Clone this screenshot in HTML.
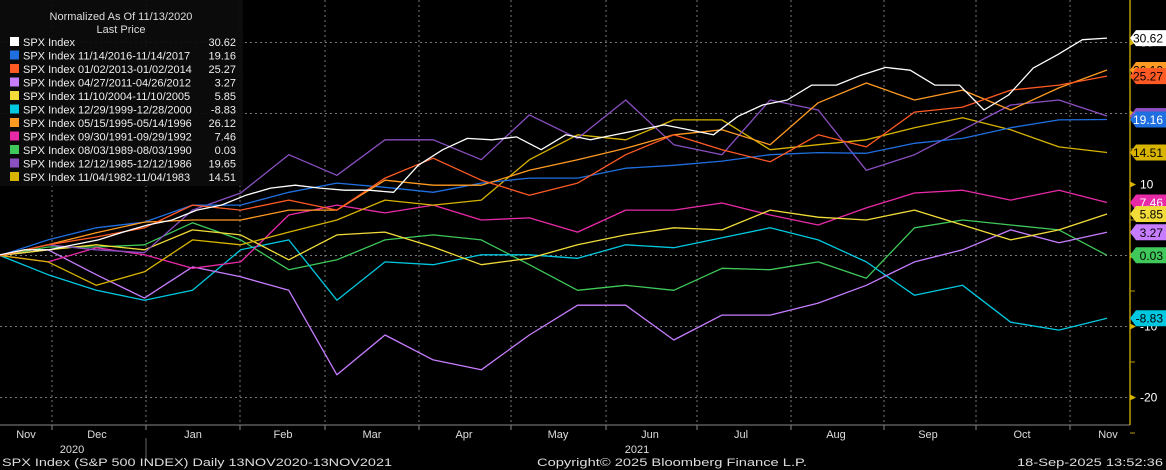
<!DOCTYPE html>
<html><head><meta charset="utf-8"><style>
body{margin:0;background:#000;width:1166px;height:470px;overflow:hidden;font-family:"Liberation Sans",sans-serif}
svg{position:absolute;left:0;top:0}
</style></head><body>
<svg id="c" width="1166" height="470"></svg>
<script>
const whiteVals=[0.1,0.8,0.8,1.5,2.2,3.3,4.3,5,6.4,7.1,8.5,9.5,9.9,9.5,9.2,9.2,8.9,12.7,14.9,16.5,16.3,16.7,14.9,17,16.3,17,17.7,18.4,17.7,17,19.6,21.2,21.9,24,24,25.4,26.5,26.1,24,24,20.5,22.6,26.4,28.3,30.4,30.62];
const blueVals=[0,2.2,3.9,4.7,7.1,7.1,8.9,10.2,9.6,8.9,10.2,10.9,10.9,12.3,12.7,13.3,14.2,14.5,14.4,15.8,16.5,18.0,19.1,19.16];
const redVals=[0,1.5,2.6,3.9,7.1,6.4,7.8,6.4,10.9,13.7,10.6,8.5,10.2,14.2,17.0,14.9,13.2,17.0,15.3,20.2,20.9,23.3,24.0,25.27];
const lavVals=[0,0.8,-2.7,-6.0,-1.6,-3.0,-4.9,-16.8,-11.2,-14.7,-16.1,-11.2,-7.0,-7.0,-11.9,-8.4,-8.4,-6.7,-4.2,-0.9,0.8,3.6,1.8,3.27];
const paleVals=[0,0.8,1.5,0.8,3.6,2.9,-0.6,2.9,3.3,1.2,-1.3,-0.4,1.5,2.9,3.9,3.6,6.4,5.4,5.0,6.4,4.3,2.2,3.6,5.85];
const cyanVals=[0,-2.7,-4.9,-6.3,-4.9,0.8,2.2,-6.3,-0.9,-1.3,0.1,0.1,-0.4,1.5,1.1,2.5,3.9,2.2,-0.9,-5.6,-4.2,-9.4,-10.5,-8.83];
const orangeVals=[0,1.5,3.2,4.7,5.0,5.0,6.4,6.4,10.6,9.9,9.9,12.0,13.5,15.1,17.0,17.7,15.6,21.5,24.3,21.9,23.3,20.5,23.6,26.12];
const magVals=[0,-0.9,1.1,0.1,-1.8,-0.9,5.7,7.1,6.0,7.1,5.0,5.3,3.3,6.4,6.4,7.4,5.7,4.3,6.7,8.8,9.2,7.8,9.2,7.46];
const greenVals=[0,1.2,1.2,1.5,4.6,2.2,-2.0,-0.6,2.2,2.9,2.2,-1.3,-4.9,-4.2,-4.9,-1.8,-2.0,-0.9,-3.2,3.9,5.0,4.3,3.6,0.03];
const purpleVals=[0,1.5,0.8,0.4,6.4,8.8,14.2,11.3,16.3,16.3,13.5,19.8,16.5,21.9,15.6,14.2,21.9,20.5,12.0,14.2,17.7,21.2,21.9,19.65];
const goldVals=[0,-0.9,-4.2,-2.3,2.2,1.5,3.3,5.0,7.8,7.1,7.8,13.5,17.0,16.3,19.1,19.1,14.9,15.6,16.3,18.0,19.4,17.7,15.3,14.51];
const seriesNames=["SPX Index","SPX Index 11/14/2016-11/14/2017","SPX Index 01/02/2013-01/02/2014","SPX Index 04/27/2011-04/26/2012","SPX Index 11/10/2004-11/10/2005","SPX Index 12/29/1999-12/28/2000","SPX Index 05/15/1995-05/14/1996","SPX Index 09/30/1991-09/29/1992","SPX Index 08/03/1989-08/03/1990","SPX Index 12/12/1985-12/12/1986","SPX Index 11/04/1982-11/04/1983"];
const monthLabels=["Nov","Dec","Jan","Feb","Mar","Apr","May","Jun","Jul","Aug","Sep","Oct","Nov"];
const yTicks=[30,20,10,0,-10,-20];

const S=document.getElementById('c'),NS='http://www.w3.org/2000/svg';
function mk(t,a,p){const e=document.createElementNS(NS,t);for(const k in a)e.setAttribute(k,a[k]);(p||S).appendChild(e);return e;}
const X0=0,X1=1107,PR=1130,PB=425;
const yS=v=>255.5-v*7.1;
const xS=(i,n)=>X0+(X1-X0)*i/(n-1);
const grid=[52,146,240,325,419,511,606,697,791,884,976,1070];
grid.forEach(x=>{const l=mk('line',{x1:x,x2:x,y1:0,y2:PB,stroke:'#777','stroke-dasharray':'2 3','stroke-width':1});
});
yTicks.forEach(v=>{if(v===10)return;const l=mk('line',{x1:0,x2:PR,y1:yS(v),y2:yS(v),stroke:'#777','stroke-dasharray':'2 3','stroke-width':1});
});
const colors=['#ffffff','#1f6fe0','#ff5a24','#c77dff','#f2dc3a','#00c8e0','#ff9a22','#e82aa8','#3fc95a','#8a4fc0','#d8b400'];
const data=[whiteVals,blueVals,redVals,lavVals,paleVals,cyanVals,orangeVals,magVals,greenVals,purpleVals,goldVals];
const order=[8,5,3,7,4,10,9,1,6,2,0];
order.forEach(k=>{const d=data[k];const pts=d.map((v,i)=>xS(i,d.length).toFixed(1)+','+yS(v).toFixed(1)).join(' ');
const p=mk('polyline',{points:pts,fill:'none',stroke:colors[k],'stroke-width':1.3,'stroke-linejoin':'round'});
});
// axes
let a=mk('line',{x1:0,x2:PR,y1:PB,y2:PB,stroke:'#888','stroke-width':1});
a=mk('line',{x1:PR,x2:PR,y1:0,y2:PB,stroke:'#b89a00','stroke-width':1.5});
[-25,-15,-5,5,15,25].forEach(v=>{const t=mk('line',{x1:PR,x2:PR+5,y1:yS(v),y2:yS(v),stroke:'#b89a00'});});
yTicks.forEach(v=>{mk('path',{d:`M${PR} ${yS(v)-3}L${PR+6} ${yS(v)}L${PR} ${yS(v)+3}Z`,fill:'#d8b400'});
const t=mk('text',{x:PR+10,y:yS(v)+4,fill:'#fff','font-size':12});t.textContent=v;});
grid.forEach(x=>{const t=mk('line',{x1:x,x2:x,y1:PB,y2:PB+5,stroke:'#888'});});
const mx=[26,97,193,283,372,464,558,650,741,836,928,1022,1108];
monthLabels.forEach((m,i)=>{const t=mk('text',{x:mx[i],y:438,fill:'#ddd','font-size':11,'text-anchor':'middle'});t.textContent=m;});
[[72,'2020'],[637,'2021']].forEach(([x,s])=>{const t=mk('text',{x:x,y:453,fill:'#ddd','font-size':11,'text-anchor':'middle'});t.textContent=s;});
mk('line',{x1:146,x2:146,y1:438,y2:460,stroke:'#666'});
[[2,'start','SPX Index (S&P 500 INDEX)  Daily 13NOV2020-13NOV2021','footer-left'],[672,'middle','Copyright© 2025 Bloomberg Finance L.P.','footer-copyright'],[1163,'end','18-Sep-2025 13:52:36','footer-timestamp']].forEach(([x,an,s,n])=>{
const t=mk('text',{x:x,y:466,fill:'#ddd','font-size':11,'text-anchor':an,textLength:an==='start'?390:an==='end'?146:270,lengthAdjust:'spacingAndGlyphs'});t.textContent=s;});
// tags
const tags=[[6,'26.12','#000'],[9,'19.65','#fff'],[0,'30.62','#000'],[2,'25.27','#000'],[1,'19.16','#fff'],[10,'14.51','#000'],[7,'7.46','#fff'],[4,'5.85','#000'],[3,'3.27','#000'],[8,'0.03','#000'],[5,'-8.83','#000']];
tags.forEach(([k,s,tc])=>{const d=data[k];const y=yS(d[d.length-1]);const g=mk('g',{});

mk('path',{d:`M${PR} ${y}L${PR+6} ${y-8}H1166V${y+8}H${PR+6}Z`,fill:colors[k]},g);
const t=mk('text',{x:1163,y:y+4.5,fill:tc,'font-size':12,'text-anchor':'end'},g);t.textContent=s;});
// legend
const lg=mk('g',{});
mk('rect',{x:0,y:0,width:243,height:186,fill:'#0c0c0c','fill-opacity':0.92},lg);
let t=mk('text',{x:121,y:20,fill:'#ddd','font-size':11,'text-anchor':'middle'},lg);t.textContent='Normalized As Of 11/13/2020';
t=mk('text',{x:121,y:33,fill:'#ddd','font-size':11,'text-anchor':'middle'},lg);t.textContent='Last Price';
const lv=['30.62','19.16','25.27','3.27','5.85','-8.83','26.12','7.46','0.03','19.65','14.51'];
seriesNames.forEach((n,i)=>{const y=46+i*13.5;const g=mk('g',{},lg);

mk('rect',{x:10,y:y-9,width:9,height:9,fill:colors[i]},g);
let a=mk('text',{x:23,y:y,fill:'#eee','font-size':11},g);a.textContent=n;
a=mk('text',{x:236,y:y,fill:'#eee','font-size':11,'text-anchor':'end'},g);a.textContent=lv[i];});
</script>
</body></html>
